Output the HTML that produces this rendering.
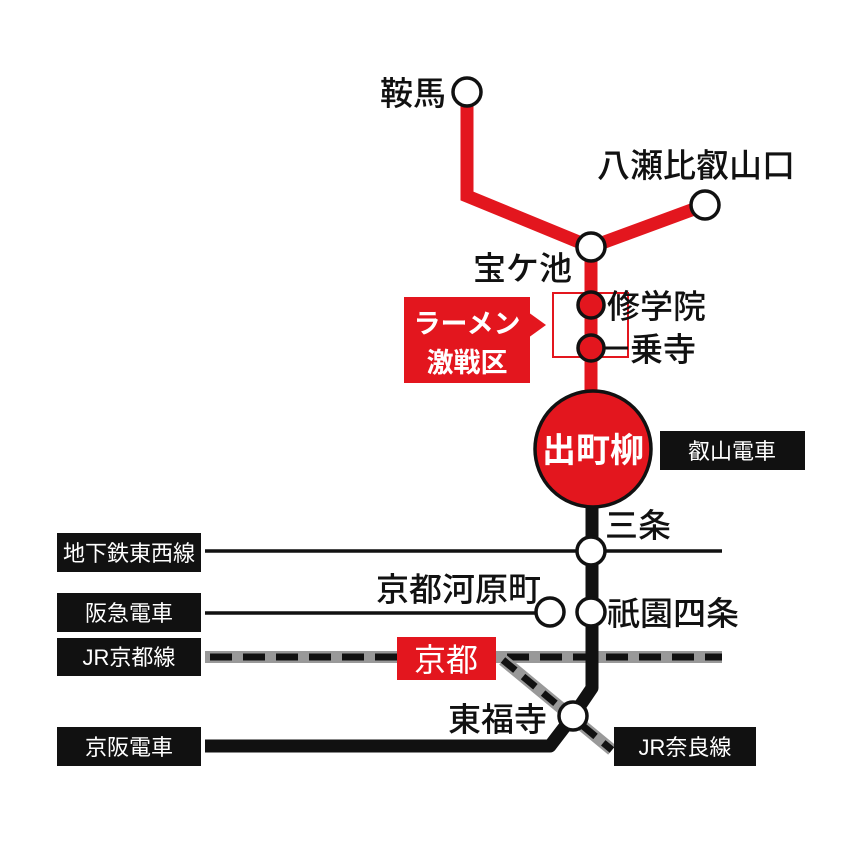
<!DOCTYPE html>
<html><head><meta charset="utf-8"><style>
html,body{margin:0;padding:0;background:#fff;}
svg text{font-family:"Liberation Sans","Noto Sans CJK JP",sans-serif;}
</style></head><body>
<svg width="850" height="850" viewBox="0 0 850 850" xmlns="http://www.w3.org/2000/svg">
<rect width="850" height="850" fill="#fff"/>
<line x1="205" y1="551" x2="722" y2="551" stroke="#111" stroke-width="3.5"/>
<line x1="205" y1="613" x2="550" y2="613" stroke="#111" stroke-width="3.5"/>
<line x1="205" y1="657" x2="722" y2="657" stroke="#999" stroke-width="12"/>
<line x1="210" y1="657" x2="722" y2="657" stroke="#111" stroke-width="7" stroke-dasharray="22,11"/>
<line x1="503" y1="660" x2="612" y2="750" stroke="#999" stroke-width="12"/>
<line x1="503" y1="660" x2="612" y2="750" stroke="#111" stroke-width="7" stroke-dasharray="16,10"/>
<path d="M592,450 L592,688 L573,716" fill="none" stroke="#111" stroke-width="13" stroke-linejoin="round"/>
<path d="M205,746 L550,746 L573,716" fill="none" stroke="#111" stroke-width="13" stroke-linejoin="round"/>
<path d="M467,92 L467,196 L591,247 L705,205" fill="none" stroke="#e3161e" stroke-width="13" stroke-linejoin="miter"/>
<line x1="591" y1="247" x2="591" y2="450" stroke="#e3161e" stroke-width="13"/>
<rect x="553" y="293" width="75" height="64" fill="none" stroke="#e3161e" stroke-width="2"/>
<line x1="591" y1="348" x2="628" y2="348" stroke="#111" stroke-width="3"/>
<g stroke="#111" stroke-width="3.5">
<circle cx="467" cy="92" r="14" fill="#fff"/>
<circle cx="705" cy="205" r="14" fill="#fff"/>
<circle cx="591" cy="247" r="14" fill="#fff"/>
<circle cx="591" cy="305" r="13" fill="#e3161e"/>
<circle cx="591" cy="348" r="13" fill="#e3161e"/>
<circle cx="593" cy="449" r="58" fill="#e3161e"/>
<circle cx="591" cy="551" r="14" fill="#fff"/>
<circle cx="550" cy="612" r="14" fill="#fff"/>
<circle cx="591" cy="612" r="14" fill="#fff"/>
<circle cx="573" cy="716" r="14" fill="#fff"/>
</g>
<rect x="404" y="297" width="126" height="86" fill="#e3161e"/>
<polygon points="528,312 546,325 528,338" fill="#e3161e"/>
<text x="467" y="333" font-size="27" fill="#fff" text-anchor="middle" font-weight="bold">ラーメン</text>
<text x="467" y="372" font-size="27" fill="#fff" text-anchor="middle" font-weight="bold">激戦区</text>
<rect x="397" y="637" width="99" height="43" fill="#e3161e"/>
<text x="446" y="671" font-size="32" fill="#fff" text-anchor="middle">京都</text>
<text x="593" y="462" font-size="34" fill="#fff" text-anchor="middle" font-weight="bold">出町柳</text>
<g font-size="33" fill="#111" font-weight="500">
<text x="380" y="105">鞍馬</text>
<text x="597" y="177">八瀬比叡山口</text>
<text x="473" y="280">宝ケ池</text>
<text x="607" y="318">修学院</text>
<text x="630" y="361">乗寺</text>
<text x="605" y="537">三条</text>
<text x="376" y="601">京都河原町</text>
<text x="607" y="625">祇園四条</text>
<text x="448" y="731">東福寺</text>
</g>
<g font-size="22" fill="#fff" text-anchor="middle">
<rect x="660" y="431" width="145" height="39" fill="#111"/><text x="732" y="459">叡山電車</text>
<rect x="57" y="533" width="144" height="39" fill="#111"/><text x="129" y="561">地下鉄東西線</text>
<rect x="57" y="593" width="144" height="39" fill="#111"/><text x="129" y="621">阪急電車</text>
<rect x="57" y="638" width="144" height="38" fill="#111"/><text x="129" y="665">JR京都線</text>
<rect x="57" y="727" width="144" height="39" fill="#111"/><text x="129" y="755">京阪電車</text>
<rect x="614" y="727" width="142" height="39" fill="#111"/><text x="685" y="755">JR奈良線</text>
</g>
</svg>
</body></html>
